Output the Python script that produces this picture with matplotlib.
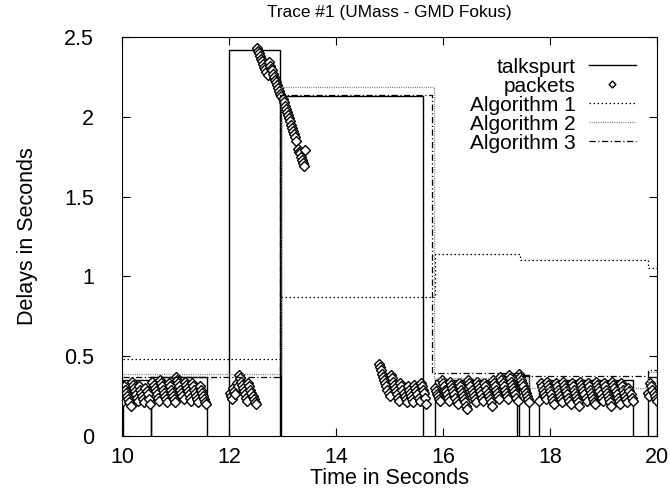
import matplotlib
matplotlib.use("Agg")
import matplotlib.pyplot as plt
import numpy as np

plt.rcParams['font.family'] = ['Liberation Sans', 'DejaVu Sans']

# talkspurt boxes: start, end, height (seconds)
TS_START = [10.02, 10.55, 12.00, 12.97, 15.85, 17.42, 17.80, 19.83]
TS_END = [10.55, 11.58, 12.95, 15.63, 17.38, 17.60, 19.55, 20.00]
TS_HEIGHT = [0.35, 0.37, 2.42, 2.13, 0.35, 0.38, 0.35, 0.37]

# packets: each group starts at a time, packets are 20 ms apart
PKT_SPACING = 0.02
PKT_START = [10.02, 10.57, 12.02, 12.52, 12.98, 13.28, 14.80, 15.85, 17.42, 17.80, 19.83]
PKT_DELAY = [
    [0.22, 0.31, 0.29, 0.27, 0.25, 0.23, 0.21, 0.19, 0.34, 0.32, 0.30, 0.28, 0.26,
     0.24, 0.22, 0.31, 0.29, 0.27, 0.25, 0.23, 0.21, 0.30, 0.28, 0.26, 0.23, 0.20],
    [0.34, 0.32, 0.30, 0.28, 0.26, 0.24, 0.22, 0.35, 0.33, 0.31, 0.29, 0.27, 0.25,
     0.23, 0.21, 0.33, 0.31, 0.29, 0.27, 0.25, 0.23, 0.21, 0.37, 0.35, 0.33, 0.31,
     0.29, 0.27, 0.25, 0.23, 0.34, 0.32, 0.30, 0.28, 0.26, 0.24, 0.22, 0.33, 0.31,
     0.29, 0.27, 0.25, 0.23, 0.21, 0.31, 0.29, 0.27, 0.25, 0.23, 0.21, 0.20],
    [0.27, 0.25, 0.23, 0.30, 0.28, 0.26, 0.33, 0.31, 0.38, 0.36, 0.34, 0.32, 0.30,
     0.28, 0.26, 0.24, 0.22, 0.33, 0.31, 0.29, 0.27, 0.25, 0.23, 0.21, 0.20],
    [2.43, 2.41, 2.40, 2.38, 2.36, 2.35, 2.33, 2.31, 2.30, 2.28, 2.26, 2.34, 2.32,
     2.30, 2.29, 2.27, 2.25, 2.23, 2.22, 2.20, 2.18, 2.16, 2.14],
    [2.13, 2.11, 2.09, 2.07, 2.05, 2.03, 2.01, 1.99, 1.97, 1.95, 1.93, 1.91, 1.89,
     1.87, 1.85],
    [1.80, 1.78, 1.77, 1.75, 1.73, 1.71, 1.69, 1.79],
    [0.45, 0.43, 0.41, 0.39, 0.37, 0.35, 0.33, 0.31, 0.29, 0.27, 0.25, 0.38, 0.36,
     0.34, 0.32, 0.30, 0.28, 0.26, 0.24, 0.22, 0.33, 0.31, 0.29, 0.27, 0.25, 0.23,
     0.21, 0.31, 0.29, 0.27, 0.25, 0.23, 0.21, 0.32, 0.30, 0.28, 0.26, 0.24, 0.22,
     0.33, 0.31, 0.29, 0.27, 0.24, 0.20],
    [0.30, 0.28, 0.26, 0.25, 0.23, 0.22, 0.35, 0.33, 0.31, 0.29, 0.28, 0.26, 0.24,
     0.22, 0.34, 0.32, 0.30, 0.28, 0.26, 0.24, 0.22, 0.20, 0.33, 0.31, 0.29, 0.27,
     0.25, 0.23, 0.21, 0.19, 0.17, 0.35, 0.33, 0.31, 0.29, 0.27, 0.25, 0.23, 0.21,
     0.34, 0.32, 0.30, 0.28, 0.26, 0.24, 0.22, 0.33, 0.31, 0.29, 0.27, 0.25, 0.23,
     0.21, 0.19, 0.35, 0.33, 0.31, 0.29, 0.27, 0.25, 0.23, 0.37, 0.35, 0.33, 0.31,
     0.29, 0.27, 0.25, 0.23, 0.38, 0.36, 0.34, 0.32, 0.30, 0.28, 0.26, 0.24, 0.22],
    [0.39, 0.37, 0.35, 0.33, 0.31, 0.29, 0.27, 0.25, 0.23, 0.21],
    [0.22, 0.33, 0.31, 0.29, 0.27, 0.25, 0.23, 0.34, 0.32, 0.30, 0.28, 0.26, 0.24,
     0.22, 0.20, 0.33, 0.31, 0.29, 0.27, 0.25, 0.23, 0.21, 0.34, 0.32, 0.30, 0.28,
     0.26, 0.24, 0.22, 0.20, 0.33, 0.31, 0.29, 0.27, 0.25, 0.23, 0.21, 0.19, 0.34,
     0.32, 0.30, 0.28, 0.26, 0.24, 0.22, 0.33, 0.31, 0.29, 0.27, 0.25, 0.23, 0.21,
     0.20, 0.34, 0.32, 0.30, 0.28, 0.26, 0.24, 0.22, 0.33, 0.31, 0.29, 0.27, 0.25,
     0.23, 0.21, 0.19, 0.34, 0.32, 0.30, 0.28, 0.26, 0.24, 0.22, 0.20, 0.33, 0.31,
     0.29, 0.27, 0.25, 0.23, 0.21, 0.30, 0.28, 0.26, 0.24, 0.22],
    [0.27, 0.25, 0.33, 0.31, 0.29, 0.27, 0.25, 0.23, 0.22],
]

# playout delay of the three algorithms (step changes)
ALG1_T = [10.02, 12.97, 15.85, 17.44, 19.83, 20.00]
ALG1_D = [0.48, 0.87, 1.14, 1.105, 1.05, 1.05]
ALG2_T = [10.02, 12.97, 15.82, 17.60, 19.83, 20.00]
ALG2_D = [0.39, 2.185, 0.36, 0.30, 0.40, 0.40]
ALG3_T = [10.02, 12.95, 15.80, 17.45, 19.83, 20.00]
ALG3_D = [0.37, 2.135, 0.397, 0.376, 0.41, 0.41]

fig, ax = plt.subplots(figsize=(6.7, 4.92), dpi=100)
fig.subplots_adjust(left=0.182, right=0.981, bottom=0.114, top=0.925)

# talkspurts as boxes
for i in range(len(TS_START)):
    s, e, h = TS_START[i], TS_END[i], TS_HEIGHT[i]
    ax.plot([s, s, e, e], [0, h, h, 0], color='black', lw=1.0,
            label='talkspurt' if i == 0 else None)

# packets
for i in range(len(PKT_START)):
    d = PKT_DELAY[i]
    t = PKT_START[i] + PKT_SPACING * np.arange(len(d))
    ax.plot(t, d, linestyle='none', marker='D', markersize=5.0,
            markerfacecolor='white', markeredgecolor='black', markeredgewidth=1.0,
            label='packets' if i == 0 else None)

ax.step(ALG1_T, ALG1_D, where='post', color='black', lw=0.9,
        dashes=(1.2, 2.0), label='Algorithm 1')
ax.step(ALG2_T, ALG2_D, where='post', color='#777777', lw=0.9,
        dashes=(0.8, 1.0), label='Algorithm 2')
ax.step(ALG3_T, ALG3_D, where='post', color='black', lw=0.9,
        dashes=(5, 2, 1, 2), label='Algorithm 3')

ax.set_xlim(10, 20)
ax.set_ylim(0, 2.5)
ax.set_xticks([10, 12, 14, 16, 18, 20])
ax.set_yticks([0, 0.5, 1, 1.5, 2, 2.5])
ax.set_yticklabels(['0', '0.5', '1', '1.5', '2', '2.5'])
ax.tick_params(direction='in', top=True, right=True, length=6, labelsize=15.5)
ax.tick_params(axis='y', pad=20)
ax.tick_params(axis='x', pad=8)

ax.set_title('Trace #1 (UMass - GMD Fokus)', fontsize=12.4, pad=14)
ax.set_xlabel('Time in Seconds', fontsize=15.5, labelpad=0)
ax.set_ylabel('Delays in Seconds', fontsize=15.5, labelpad=19)

ax.legend(loc='upper right', frameon=False, markerfirst=False, fontsize=15,
          handlelength=2.3, handletextpad=0.6, labelspacing=0.0,
          borderaxespad=0.7, numpoints=1, borderpad=0.3, markerscale=0.7)

fig.savefig('out.png', dpi=100)
